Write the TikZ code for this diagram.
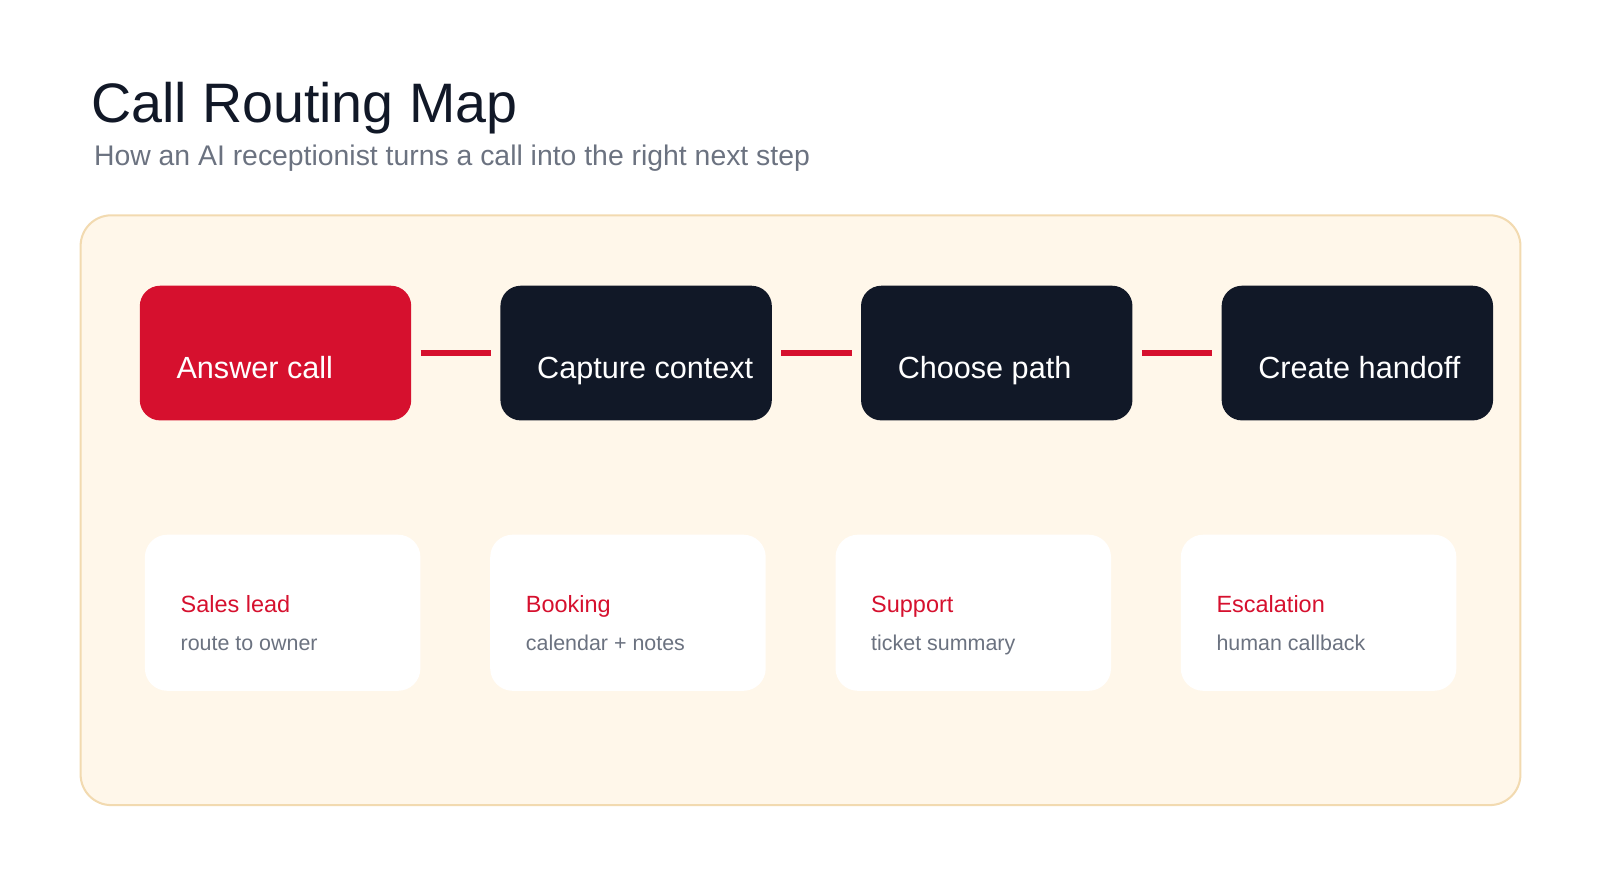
\documentclass[tikz,border=0pt]{standalone}
\usepackage{fontspec}
\setmainfont{Liberation Sans}
\usetikzlibrary{positioning,calc}
\definecolor{routeRed}{HTML}{D6102E}
\definecolor{routeNavy}{HTML}{111827}
\definecolor{routeGray}{HTML}{6B7280}
\definecolor{panelFill}{HTML}{FFF7EA}
\definecolor{panelLine}{HTML}{F2DAB0}
\newcommand{\steptext}[1]{\makebox[194pt][l]{#1}}

\begin{document}
\begin{tikzpicture}[
        x=1pt, y=-1pt,
        title/.style={anchor=base west, inner sep=0pt, text=routeNavy, font=\fontsize{54.5}{60}\selectfont},
        subtitle/.style={anchor=base west, inner sep=0pt, text=routeGray, font=\fontsize{27.8}{32}\selectfont},
        panel/.style={draw=panelLine, fill=panelFill, line width=2pt, rounded corners=30pt},
        stepbox/.style={rectangle, fill=#1, rounded corners=20pt, minimum width=266pt, minimum height=132pt, inner xsep=36pt, inner ysep=0pt, text height=50pt, text depth=0pt, text=white, font=\fontsize{30}{36}\selectfont},
        card/.style={rectangle, fill=white, rounded corners=22pt, minimum width=270pt, minimum height=153pt},
        cardtitle/.style={anchor=base west, inner sep=0pt, text=routeRed, font=\fontsize{23}{28}\selectfont},
        cardnote/.style={anchor=base west, inner sep=0pt, text=routeGray, font=\fontsize{21}{26}\selectfont},
        link/.style={routeRed, line width=6pt, shorten <=9pt, shorten >=9pt}
    ]
        \useasboundingbox (0,0) rectangle (1568,875);

        % Heading
        \node[title] (head) at (89,120) {Call Routing Map};
        \node[subtitle] (sub) at (92,162) {How an AI receptionist turns a call into the right next step};

        % Panel
        \draw[panel] (79,211) rectangle (1490,789);

        % Steps
        \node[stepbox=routeRed] (s1) at (270,346) {\steptext{Answer call}};
        \node[stepbox=routeNavy, right=87pt of s1] (s2) {\steptext{Capture context}};
        \node[stepbox=routeNavy, right=87pt of s2] (s3) {\steptext{Choose path}};
        \node[stepbox=routeNavy, right=87pt of s3] (s4) {\steptext{Create handoff}};

        % Links
        \draw[link] (s1) -- (s2);
        \draw[link] (s2) -- (s3);
        \draw[link] (s3) -- (s4);

        % Cards
        \node[card] (c1) at (277,600.5) {};
        \node[card, right=68pt of c1] (c2) {};
        \node[card, right=68pt of c2] (c3) {};
        \node[card, right=68pt of c3] (c4) {};

        \node[cardtitle] (t1) at ([xshift=35pt]c1.west) {Sales lead};
        \node[cardnote] (n1) at ([yshift=-37pt]t1.base west) {route to owner};

        \node[cardtitle] (t2) at ([xshift=35pt]c2.west) {Booking};
        \node[cardnote] (n2) at ([yshift=-37pt]t2.base west) {calendar + notes};

        \node[cardtitle] (t3) at ([xshift=35pt]c3.west) {Support};
        \node[cardnote] (n3) at ([yshift=-37pt]t3.base west) {ticket summary};

        \node[cardtitle] (t4) at ([xshift=35pt]c4.west) {Escalation};
        \node[cardnote] (n4) at ([yshift=-37pt]t4.base west) {human callback};

    \end{tikzpicture}
\end{document}
